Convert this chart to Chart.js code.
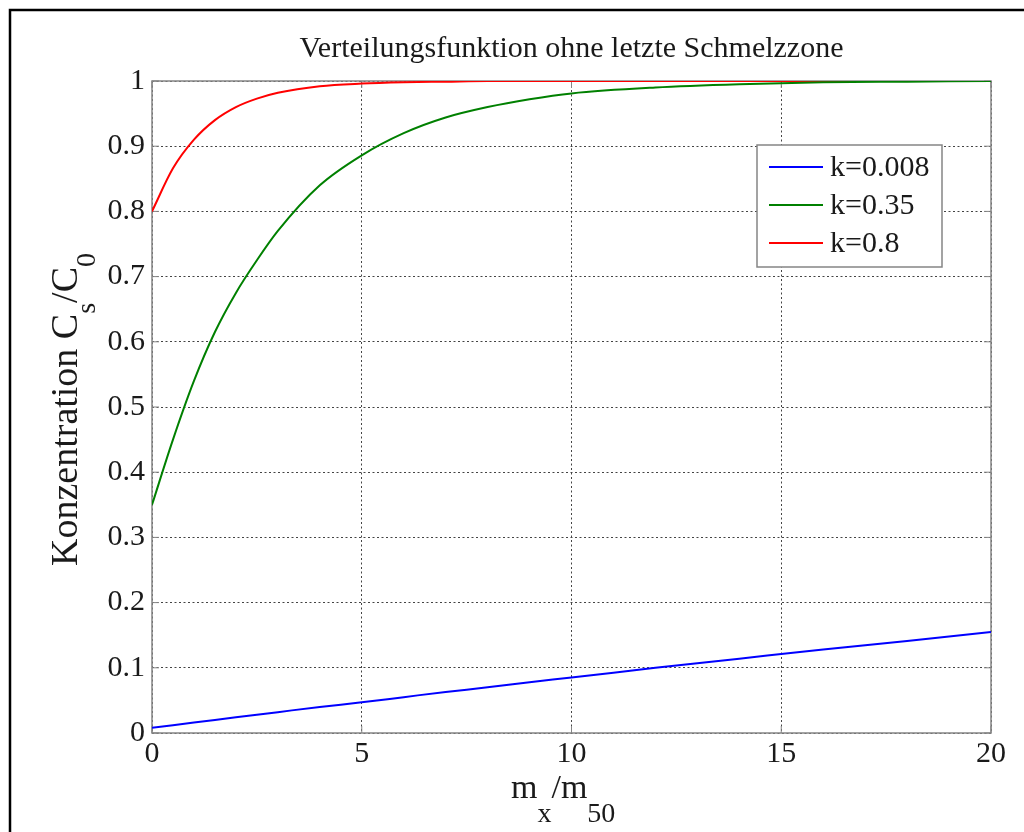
<!DOCTYPE html>
<html>
<head>
<meta charset="utf-8">
<script src="https://cdn.jsdelivr.net/npm/chart.js@4"></script>
<style>
  html, body { margin: 0; padding: 0; background: #fff; }
  canvas { display: block; }
</style>
</head>
<body>
<canvas id="chart" width="1024" height="832"></canvas>
<script>
// values
const xValues = [0, 0.5, 1, 1.5, 2, 2.5, 3, 4, 5, 6, 7, 8, 9, 10, 12, 14, 16, 18, 20];
const k0008 = [0.008, 0.012, 0.016, 0.020, 0.024, 0.028, 0.032, 0.040, 0.047, 0.055, 0.063, 0.070, 0.078, 0.085, 0.100, 0.114, 0.128, 0.141, 0.155];
const k035 = [0.35, 0.45, 0.54, 0.615, 0.675, 0.725, 0.77, 0.84, 0.886, 0.92, 0.944, 0.96, 0.972, 0.981, 0.99, 0.995, 0.998, 0.999, 1.0];
const k08 = [0.80, 0.866, 0.91, 0.94, 0.96, 0.973, 0.982, 0.992, 0.996, 0.998, 0.999, 1, 1, 1, 1, 1, 1, 1, 1];

const seriesLabels = ["k=0.008", "k=0.35", "k=0.8"];
const xTickLabels = ["0", "5", "10", "15", "20"];
const yTickLabels = ["0", "0.1", "0.2", "0.3", "0.4", "0.5", "0.6", "0.7", "0.8", "0.9", "1"];

const titleText = "Verteilungsfunktion ohne letzte Schmelzzone";
const SERIF = "'Times New Roman', 'Liberation Serif', serif";
const AXIS_GRAY = "#858585";

function pts(ys) {
  return xValues.map((x, i) => ({ x: x, y: ys[i] }));
}

// draws text pieces with subscripts along a (possibly rotated) baseline
function drawRich(ctx, parts, x, y, angle) {
  ctx.save();
  ctx.translate(x, y);
  ctx.rotate(angle);
  ctx.textAlign = "left";
  ctx.textBaseline = "alphabetic";
  ctx.fillStyle = "#1a1a1a";
  let pos = 0;
  parts.forEach(p => {
    ctx.font = p.size + "px " + SERIF;
    ctx.fillText(p.text, pos, p.dy || 0);
    pos += ctx.measureText(p.text).width;
  });
  ctx.restore();
}

const decor = {
  id: "decor",
  beforeDraw(chart) {
    const ctx = chart.ctx;
    ctx.save();
    ctx.fillStyle = "#fff";
    ctx.fillRect(0, 0, chart.width, chart.height);
    // outer frame (left and top edge visible)
    ctx.strokeStyle = "#000";
    ctx.lineWidth = 2.5;
    ctx.beginPath();
    ctx.moveTo(10, chart.height);
    ctx.lineTo(10, 10);
    ctx.lineTo(chart.width, 10);
    ctx.stroke();
    ctx.restore();
  },
  beforeDatasetsDraw(chart) {
    const ctx = chart.ctx;
    const a = chart.chartArea;
    const xs = chart.scales.x, ys = chart.scales.y;
    ctx.save();
    ctx.strokeStyle = AXIS_GRAY;
    ctx.lineWidth = 1.5;
    ctx.strokeRect(a.left, a.top, a.right - a.left, a.bottom - a.top);
    // inward ticks on all four sides
    ctx.lineWidth = 1;
    ctx.beginPath();
    xs.ticks.forEach(t => {
      const px = xs.getPixelForValue(t.value);
      ctx.moveTo(px, a.bottom); ctx.lineTo(px, a.bottom - 7);
      ctx.moveTo(px, a.top); ctx.lineTo(px, a.top + 7);
    });
    ys.ticks.forEach(t => {
      const py = ys.getPixelForValue(t.value);
      ctx.moveTo(a.left, py); ctx.lineTo(a.left + 7, py);
      ctx.moveTo(a.right, py); ctx.lineTo(a.right - 7, py);
    });
    ctx.stroke();
    ctx.restore();
  },
  afterDatasetsDraw(chart) {
    // legend box inside the plot, upper right
    const ctx = chart.ctx;
    const bx = 757, by = 145, bw = 185, bh = 122;
    ctx.save();
    ctx.fillStyle = "#fff";
    ctx.fillRect(bx, by, bw, bh);
    ctx.strokeStyle = AXIS_GRAY;
    ctx.lineWidth = 1.5;
    ctx.strokeRect(bx, by, bw, bh);
    ctx.font = "30px " + SERIF;
    ctx.textBaseline = "middle";
    ctx.textAlign = "left";
    chart.data.datasets.forEach((ds, i) => {
      const ly = by + 22 + i * 38;
      ctx.strokeStyle = ds.borderColor;
      ctx.lineWidth = 2;
      ctx.beginPath();
      ctx.moveTo(bx + 12, ly);
      ctx.lineTo(bx + 66, ly);
      ctx.stroke();
      ctx.fillStyle = "#1a1a1a";
      ctx.fillText(ds.label, bx + 73, ly + 1);
    });
    ctx.restore();
  },
  afterDraw(chart) {
    const ctx = chart.ctx;
    const a = chart.chartArea;
    ctx.save();
    ctx.fillStyle = "#1a1a1a";
    ctx.font = "30px " + SERIF;
    ctx.textAlign = "center";
    ctx.textBaseline = "alphabetic";
    ctx.fillText(titleText, (a.left + a.right) / 2, 57);
    ctx.restore();

    drawRich(ctx, [
      { text: "Konzentration C", size: 38 },
      { text: "s", size: 28, dy: 18 },
      { text: "/C", size: 38 },
      { text: "0", size: 28, dy: 18 }
    ], 77, 566, -Math.PI / 2);

    drawRich(ctx, [
      { text: "m", size: 34 },
      { text: "x", size: 28, dy: 24 },
      { text: "/m", size: 34 },
      { text: "50", size: 28, dy: 24 }
    ], 511, 798, 0);
  }
};

new Chart(document.getElementById("chart"), {
  type: "line",
  data: {
    datasets: [
      { label: seriesLabels[0], data: pts(k0008), borderColor: "#0000ff" },
      { label: seriesLabels[1], data: pts(k035), borderColor: "#008000" },
      { label: seriesLabels[2], data: pts(k08), borderColor: "#ff0000" }
    ]
  },
  options: {
    responsive: false,
    animation: false,
    layout: { padding: { top: 81, right: 33, left: 0, bottom: 0 } },
    elements: {
      line: { borderWidth: 2, cubicInterpolationMode: "monotone", fill: false },
      point: { radius: 0, hoverRadius: 0 }
    },
    plugins: {
      legend: { display: false },
      title: { display: false },
      tooltip: { enabled: false }
    },
    scales: {
      x: {
        type: "linear",
        min: 0,
        max: 20,
        afterFit: s => { s.height = 99; },
        ticks: {
          stepSize: 5,
          padding: 3,
          color: "#1a1a1a",
          font: { family: SERIF, size: 30 },
          maxRotation: 0,
          callback: (v, i) => xTickLabels[i]
        },
        grid: { color: "#444", lineWidth: 1, drawTicks: false },
        border: { display: false, dash: [2, 2.5] }
      },
      y: {
        min: 0,
        max: 1,
        afterFit: s => { s.width = 152; },
        ticks: {
          stepSize: 0.1,
          padding: 7,
          color: "#1a1a1a",
          font: { family: SERIF, size: 30 },
          callback: (v, i) => yTickLabels[i]
        },
        grid: { color: "#444", lineWidth: 1, drawTicks: false },
        border: { display: false, dash: [2, 2.5] }
      }
    }
  },
  plugins: [decor]
});
</script>
</body>
</html>
